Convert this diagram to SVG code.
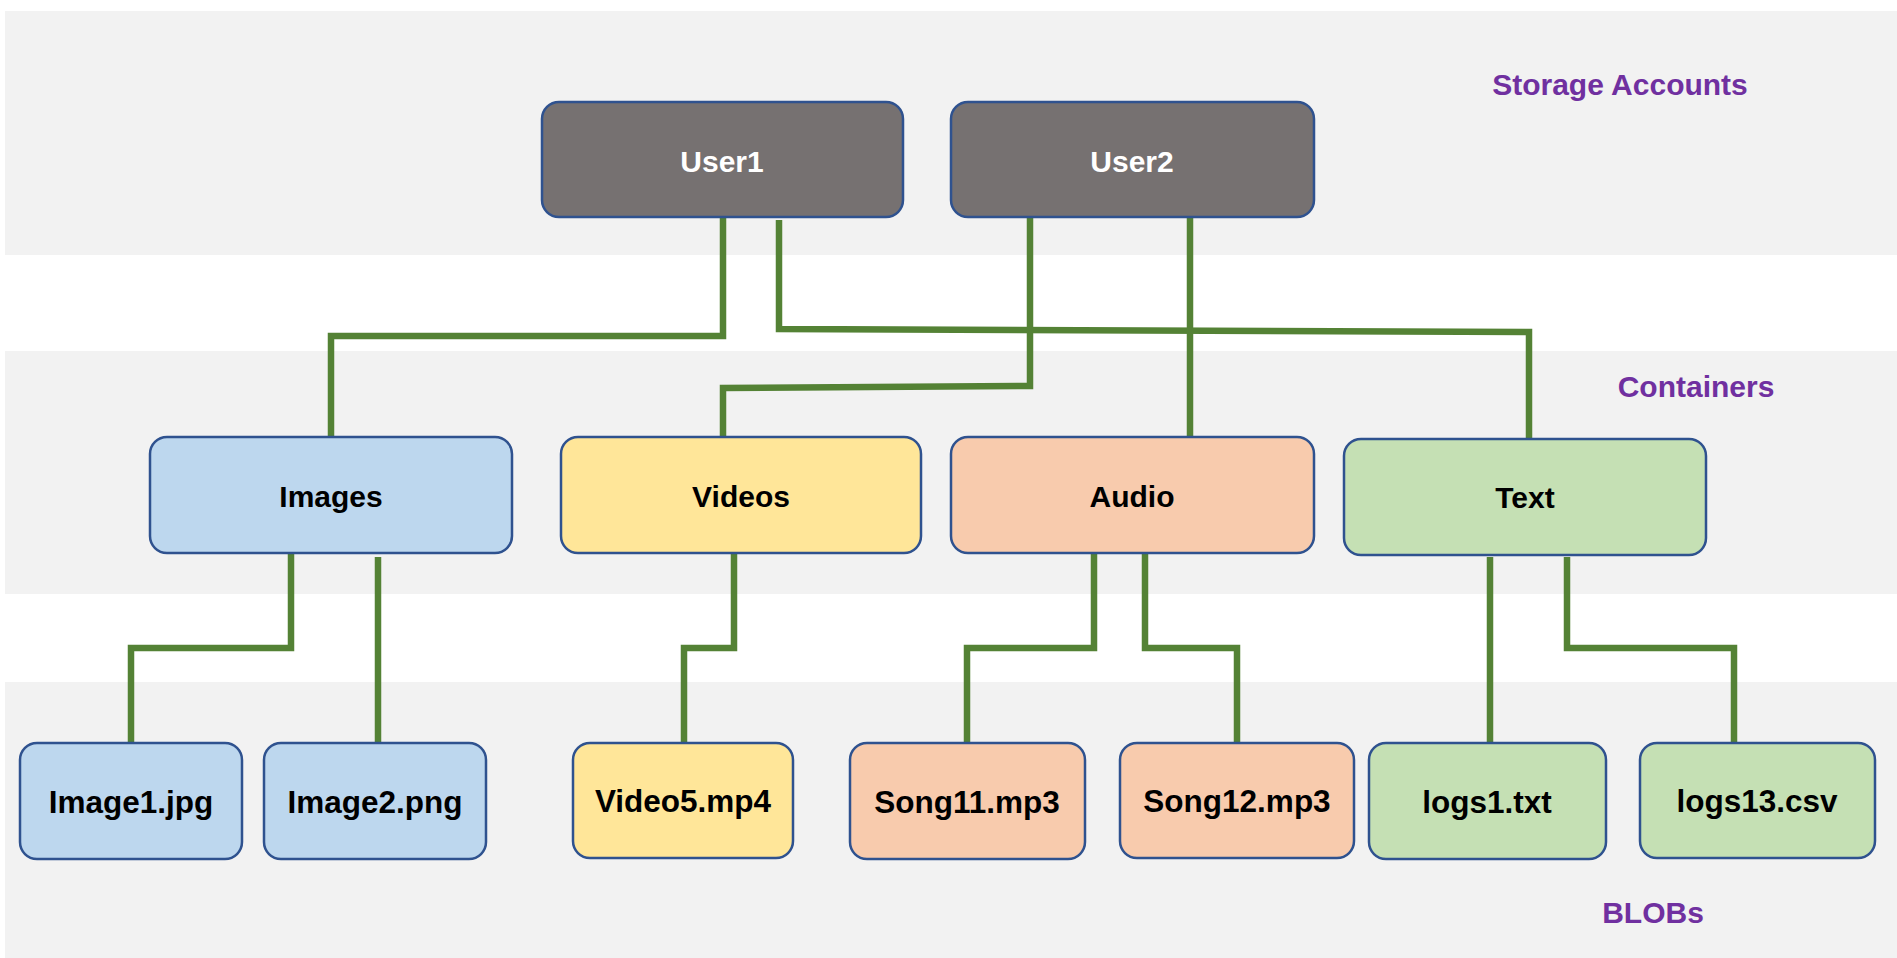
<svg xmlns="http://www.w3.org/2000/svg" width="1897" height="958" viewBox="0 0 1897 958">
<style>
text{font-family:"Liberation Sans",Arial,sans-serif;font-weight:bold;font-size:30px;text-anchor:middle}
.blob text{font-size:31.5px}
.band{fill:#f2f2f2}
.box{stroke:#2f528f;stroke-width:2.5}
.acct{fill:#767171}
.blue{fill:#bdd7ee}
.yellow{fill:#ffe699}
.peach{fill:#f8cbad}
.green{fill:#c5e0b4}
.lbl{fill:#000}
.wlbl{fill:#fff}
.tier{fill:#7030a0}
.conn{fill:none;stroke:#548235;stroke-width:6.5;stroke-linejoin:miter}
</style>
<rect width="1897" height="958" fill="#fff"/>
<g id="bands">
<rect class="band" x="5" y="11" width="1892" height="244"/>
<rect class="band" x="5" y="351" width="1892" height="243"/>
<rect class="band" x="5" y="682" width="1892" height="276"/>
</g>
<g id="tier-labels">
<text class="tier" x="1620" y="95">Storage Accounts</text>
<text class="tier" x="1696" y="397">Containers</text>
<text class="tier" x="1653" y="923">BLOBs</text>
</g>
<g id="connectors">
<polyline class="conn" points="723,217 723,336 331,336 331,437"/>
<polyline class="conn" points="779,220 779,329 1529,332 1529,439"/>
<polyline class="conn" points="1030,217 1030,386 723,388 723,437"/>
<polyline class="conn" points="1190,217 1190,437"/>
<polyline class="conn" points="291,553 291,648 131,648 131,743"/>
<polyline class="conn" points="378,557 378,743"/>
<polyline class="conn" points="734,553 734,648 684,648 684,743"/>
<polyline class="conn" points="1094,553 1094,648 967,648 967,743"/>
<polyline class="conn" points="1145,553 1145,648 1237,648 1237,743"/>
<polyline class="conn" points="1490,557 1490,743"/>
<polyline class="conn" points="1567,557 1567,648 1734,648 1734,743"/>
</g>
<g id="user1"><rect class="box acct" x="542" y="102" width="361" height="115" rx="17"/><text class="wlbl" x="722" y="172">User1</text></g>
<g id="user2"><rect class="box acct" x="951" y="102" width="363" height="115" rx="17"/><text class="wlbl" x="1132" y="172">User2</text></g>
<g id="images"><rect class="box blue" x="150" y="437" width="362" height="116" rx="17"/><text class="lbl" x="331" y="507">Images</text></g>
<g id="videos"><rect class="box yellow" x="561" y="437" width="360" height="116" rx="17"/><text class="lbl" x="741" y="507">Videos</text></g>
<g id="audio"><rect class="box peach" x="951" y="437" width="363" height="116" rx="17"/><text class="lbl" x="1132" y="507">Audio</text></g>
<g id="text"><rect class="box green" x="1344" y="439" width="362" height="116" rx="17"/><text class="lbl" x="1525" y="508">Text</text></g>
<g id="image1" class="blob"><rect class="box blue" x="20" y="743" width="222" height="116" rx="17"/><text class="lbl" x="131" y="813">Image1.jpg</text></g>
<g id="image2" class="blob"><rect class="box blue" x="264" y="743" width="222" height="116" rx="17"/><text class="lbl" x="375" y="813">Image2.png</text></g>
<g id="video5" class="blob"><rect class="box yellow" x="573" y="743" width="220" height="115" rx="17"/><text class="lbl" x="683" y="812">Video5.mp4</text></g>
<g id="song11" class="blob"><rect class="box peach" x="850" y="743" width="235" height="116" rx="17"/><text class="lbl" x="967" y="813">Song11.mp3</text></g>
<g id="song12" class="blob"><rect class="box peach" x="1120" y="743" width="234" height="115" rx="17"/><text class="lbl" x="1237" y="812">Song12.mp3</text></g>
<g id="logs1" class="blob"><rect class="box green" x="1369" y="743" width="237" height="116" rx="17"/><text class="lbl" x="1487" y="813">logs1.txt</text></g>
<g id="logs13" class="blob"><rect class="box green" x="1640" y="743" width="235" height="115" rx="17"/><text class="lbl" x="1757" y="812">logs13.csv</text></g>
</svg>
